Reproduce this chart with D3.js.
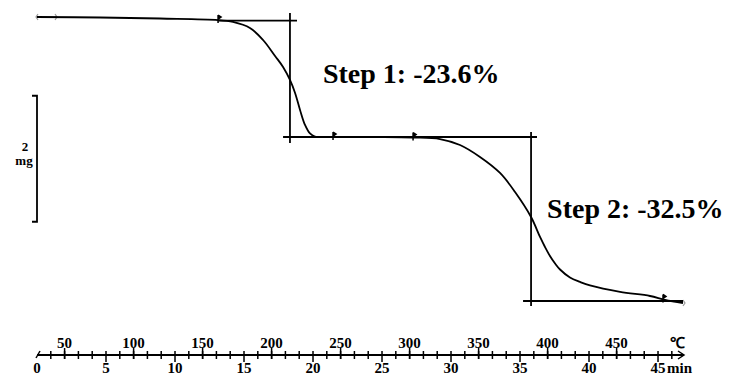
<!DOCTYPE html>
<html>
<head>
<meta charset="utf-8">
<title>TGA</title>
<script src="https://d3js.org/d3.v7.min.js"></script>
<style>
  body { margin: 0; background: #fff; }
</style>
</head>
<body>
<script>
// mass curve, time in min, mass in mg
var time = [0, 4.57, 8.91, 13.12, 14.20, 15.43, 16.38, 17.25, 17.83, 18.33, 18.70, 19.06, 19.42, 19.78, 20.14,
            21.45, 24.86, 27.25, 29.20, 30.65, 32.10, 33.55, 34.64, 35.80, 36.45, 36.81, 37.17, 37.54, 37.90,
            38.62, 39.35, 40.07, 42.25, 44.42, 45.51, 46.81];
var mass = [7.750, 7.742, 7.726, 7.702, 7.671, 7.575, 7.385, 7.131, 6.956, 6.750, 6.544, 6.274, 6.036, 5.901, 5.853,
            5.845, 5.845, 5.837, 5.813, 5.718, 5.528, 5.274, 4.972, 4.575, 4.258, 4.099, 3.956, 3.837, 3.742,
            3.615, 3.544, 3.488, 3.385, 3.321, 3.258, 3.210];

// tangent constructions [t1, m1, t2, m2]
var constructionLines = [
  [13.1, 7.691, 18.84, 7.691],
  [18.33, 7.813, 18.33, 5.75],
  [17.83, 5.845, 36.23, 5.845],
  [35.80, 5.925, 35.80, 3.163],
  [35.22, 3.242, 46.81, 3.242]
];
var markerTimes = [13.12, 21.45, 27.25, 45.36];
var steps = ["Step 1: -23.6%", "Step 2: -32.5%"];
var stepPos = [[20.72, 6.702], [36.96, 4.56]];  // [t, m] anchor for labels

var timeTicks = [0, 5, 10, 15, 20, 25, 30, 35, 40, 45];
var tempTicks = [50, 100, 150, 200, 250, 300, 350, 400, 450];
var scaleBarMg = 2;

var FONT = '"Liberation Serif", "Times New Roman", Times, "Nimbus Roman", serif';

var width = 730, height = 377;
var svg = d3.select("body").append("svg").attr("width", width).attr("height", height)
  .style("font-family", FONT).style("font-weight", "bold");

var x = d3.scaleLinear().domain([0, 46.81]).range([37, 683]);
var temp = d3.scaleLinear().domain([30, 498.1]).range([37, 683]);   // 10 °C/min from 30 °C
var y = d3.scaleLinear().domain([7.75, 3.21]).range([17, 303]);

// start / end brackets (grey)
var grey = "#999";
svg.append("path").attr("d", "M38,14 L36,17 L38,20 M36,17 L56,17 M55,14 L57,17 L55,20")
  .attr("fill", "none").attr("stroke", grey).attr("stroke-width", 1.2);
svg.append("path").attr("d", "M683,300 L685,303 L683,306")
  .attr("fill", "none").attr("stroke", grey).attr("stroke-width", 1.2);

// construction lines
svg.selectAll(".cl").data(constructionLines).enter().append("line")
  .attr("x1", d => x(d[0])).attr("y1", d => y(d[1]))
  .attr("x2", d => x(d[2])).attr("y2", d => y(d[3]))
  .attr("stroke", "#000").attr("stroke-width", 1.8);

// TGA curve
var pts = time.map((t, i) => [t, mass[i]]);
var line = d3.line().x(d => x(d[0])).y(d => y(d[1])).curve(d3.curveCatmullRom.alpha(0.5));
svg.append("path").datum(pts).attr("d", line)
  .attr("fill", "none").attr("stroke", "#000").attr("stroke-width", 1.8);

// small flag markers on the curve
var massAt = d3.scaleLinear().domain(time).range(mass);
svg.selectAll(".mk").data(markerTimes).enter().append("path")
  .attr("transform", d => "translate(" + x(d) + "," + y(massAt(d)) + ")")
  .attr("d", "M0,-5 L0,3 M0,-5 L3,-3 L0,-1")
  .attr("fill", "#000").attr("stroke", "#000").attr("stroke-width", 1.5);

// step labels
svg.selectAll(".st").data(steps).enter().append("text")
  .attr("x", (d, i) => x(stepPos[i][0]))
  .attr("y", (d, i) => y(stepPos[i][1]))
  .attr("font-size", "28px")
  .text(d => d);

// scale bar
var sbTop = 6.50;
var sbX = 37;
svg.append("path")
  .attr("d", "M" + (sbX - 5) + "," + y(sbTop) + " L" + sbX + "," + y(sbTop) +
             " L" + sbX + "," + y(sbTop - scaleBarMg) + " L" + (sbX - 5) + "," + y(sbTop - scaleBarMg))
  .attr("fill", "none").attr("stroke", "#000").attr("stroke-width", 1.8);
svg.append("text").attr("x", 25).attr("y", 151).attr("text-anchor", "middle").attr("font-size", "13px").text(scaleBarMg);
svg.append("text").attr("x", 24).attr("y", 165).attr("text-anchor", "middle").attr("font-size", "13px").text("mg");

// bottom axis
var ay = 355;
var axis = svg.append("g");
axis.append("line").attr("x1", x(0)).attr("x2", 684).attr("y1", ay).attr("y2", ay)
  .attr("stroke", "#000").attr("stroke-width", 1.8);
axis.append("path").attr("d", "M678,351 L684,355 L678,359").attr("fill", "none").attr("stroke", "#000").attr("stroke-width", 1.5);
axis.append("path").attr("d", "M36,358 L40,351").attr("stroke", "#000").attr("stroke-width", 1.5);

axis.selectAll(".mt").data(d3.range(1, 47)).enter().append("line")
  .attr("x1", d => x(d)).attr("x2", d => x(d))
  .attr("y1", ay - 4).attr("y2", d => d % 5 === 0 ? ay + 7 : ay + 4)
  .attr("stroke", "#000").attr("stroke-width", 1.5);
axis.selectAll(".tt").data(tempTicks).enter().append("line")
  .attr("x1", d => temp(d)).attr("x2", d => temp(d))
  .attr("y1", ay - 7).attr("y2", ay + 4)
  .attr("stroke", "#000").attr("stroke-width", 1.5);

axis.selectAll(".tl").data(tempTicks).enter().append("text")
  .attr("x", d => temp(d)).attr("y", 348)
  .attr("text-anchor", "middle").attr("font-size", "15px").text(d => d);
axis.selectAll(".ml").data(timeTicks).enter().append("text")
  .attr("x", d => x(d)).attr("y", 373)
  .attr("text-anchor", "middle").attr("font-size", "15px").text(d => d);
axis.append("text").attr("x", 670).attr("y", 348).attr("font-size", "15px").text("℃");
axis.append("text").attr("x", 667).attr("y", 373).attr("font-size", "15px").text("min");
</script>
</body>
</html>
